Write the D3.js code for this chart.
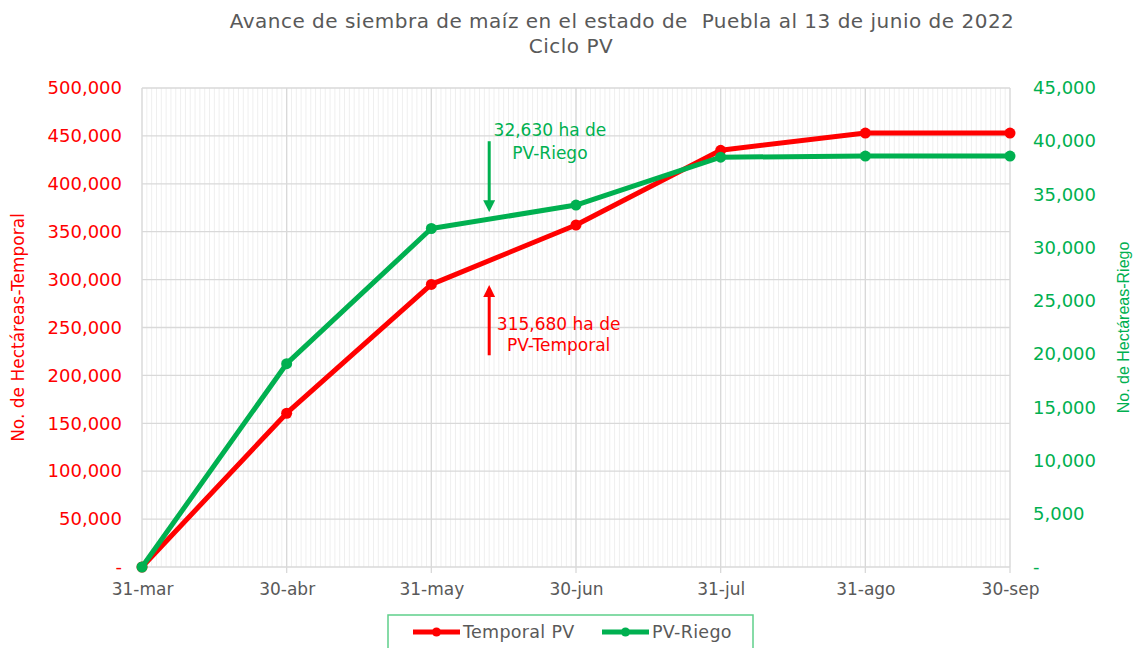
<!DOCTYPE html>
<html>
<head>
<meta charset="utf-8">
<script src="https://cdn.jsdelivr.net/npm/d3@7"></script>
<style>
  body { margin: 0; background: #fff; }
  svg text { font-family: "DejaVu Sans", "Open Sans", sans-serif; }
</style>
</head>
<body>
<div id="chart"></div>
<script>
const categories = ["31-mar", "30-abr", "31-may", "30-jun", "31-jul", "31-ago", "30-sep"];
const temporal = [0, 160500, 295000, 357000, 435000, 453000, 453000];
const riego = [0, 19100, 31800, 34000, 38500, 38600, 38600];
const leftTicks = [0, 50000, 100000, 150000, 200000, 250000, 300000, 350000, 400000, 450000, 500000];
const rightTicks = [0, 5000, 10000, 15000, 20000, 25000, 30000, 35000, 40000, 45000];

const red = "#ff0000";
const green = "#00b050";
const gray = "#595959";

const width = 1134;
const height = 648;
const marginLeft = 142;
const marginRight = 124;
const marginTop = 88;
const marginBottom = 81;

const svg = d3.select("#chart").append("svg")
  .attr("width", width)
  .attr("height", height);

// x is a linear scale on the category index so annotations can sit between dates
const x = d3.scaleLinear()
  .domain([0, categories.length - 1])
  .range([marginLeft, width - marginRight]);

const yLeft = d3.scaleLinear()
  .domain([0, 500000])
  .range([height - marginBottom, marginTop]);

const yRight = d3.scaleLinear()
  .domain([0, 45000])
  .range([height - marginBottom, marginTop]);

const fmt = d => d === 0 ? "-" : d3.format(",")(d);

// minor vertical grid (daily-ish subdivisions)
const minor = d3.range(0, (categories.length - 1) * 30 + 1).map(i => i / 30);
svg.append("g")
  .selectAll("line")
  .data(minor)
  .join("line")
  .attr("x1", d => x(d)).attr("x2", d => x(d))
  .attr("y1", yLeft(500000)).attr("y2", yLeft(0))
  .attr("stroke", "#efefef")
  .attr("stroke-width", 1);

// major horizontal grid
svg.append("g")
  .selectAll("line")
  .data(leftTicks)
  .join("line")
  .attr("x1", x(0)).attr("x2", x(categories.length - 1))
  .attr("y1", d => yLeft(d)).attr("y2", d => yLeft(d))
  .attr("stroke", "#d9d9d9")
  .attr("stroke-width", 1.3);

// major vertical grid
svg.append("g")
  .selectAll("line")
  .data(categories)
  .join("line")
  .attr("x1", (d, i) => x(i)).attr("x2", (d, i) => x(i))
  .attr("y1", yLeft(500000)).attr("y2", yLeft(0) + 6)
  .attr("stroke", "#d9d9d9")
  .attr("stroke-width", 1.3);

// axes
const xAxis = svg.append("g")
  .attr("transform", `translate(0,${height - marginBottom})`)
  .call(d3.axisBottom(x).tickValues(d3.range(categories.length)).tickFormat(i => categories[i]).tickSize(0).tickPadding(16));
xAxis.select(".domain").remove();
xAxis.selectAll("text").attr("fill", gray).style("font-size", "17px");

const leftAxis = svg.append("g")
  .attr("transform", `translate(${marginLeft - 20},0)`)
  .call(d3.axisLeft(yLeft).tickValues(leftTicks).tickFormat(fmt).tickSize(0).tickPadding(0));
leftAxis.select(".domain").remove();
leftAxis.selectAll("text").attr("fill", red).style("font-size", "18px");

const rightAxis = svg.append("g")
  .attr("transform", `translate(${width - marginRight + 23},0)`)
  .call(d3.axisRight(yRight).tickValues(rightTicks).tickFormat(fmt).tickSize(0).tickPadding(0));
rightAxis.select(".domain").remove();
rightAxis.selectAll("text").attr("fill", green).style("font-size", "18px");

// axis titles
svg.append("text")
  .attr("transform", `translate(24,${(marginTop + height - marginBottom) / 2}) rotate(-90)`)
  .attr("text-anchor", "middle")
  .attr("fill", red)
  .style("font-size", "17px")
  .text("No. de Hectáreas-Temporal");

svg.append("text")
  .attr("transform", `translate(1129,${(marginTop + height - marginBottom) / 2}) rotate(-90)`)
  .attr("text-anchor", "middle")
  .attr("fill", green)
  .style("font-family", "'Liberation Sans', Arial, sans-serif")
  .style("font-size", "16px")
  .text("No. de Hectáreas-Riego");

// title
svg.append("text")
  .attr("x", 622).attr("y", 28)
  .attr("text-anchor", "middle")
  .attr("fill", gray)
  .style("font-size", "20px")
  .style("letter-spacing", "0.5px")
  .style("white-space", "pre")
  .text("Avance de siembra de maíz en el estado de  Puebla al 13 de junio de 2022");
svg.append("text")
  .attr("x", 571).attr("y", 53)
  .attr("text-anchor", "middle")
  .attr("fill", gray)
  .style("font-size", "20px")
  .style("letter-spacing", "0.5px")
  .text("Ciclo PV");

// series
const series = [
  { name: "Temporal PV", values: temporal, y: yLeft, color: red },
  { name: "PV-Riego", values: riego, y: yRight, color: green }
];

series.forEach(s => {
  const line = d3.line()
    .x((_, i) => x(i))
    .y(d => s.y(d));
  svg.append("path")
    .datum(s.values)
    .attr("fill", "none")
    .attr("stroke", s.color)
    .attr("stroke-width", 5)
    .attr("stroke-linejoin", "round")
    .attr("d", line);
  svg.append("g")
    .selectAll("circle")
    .data(s.values)
    .join("circle")
    .attr("cx", (_, i) => x(i))
    .attr("cy", d => s.y(d))
    .attr("r", 5.5)
    .attr("fill", s.color);
});

// annotations
const defs = svg.append("defs");
[["headGreen", green], ["headRed", red]].forEach(([id, c]) => {
  defs.append("marker")
    .attr("id", id)
    .attr("viewBox", "0 0 10 10")
    .attr("refX", 5).attr("refY", 5)
    .attr("markerWidth", 4).attr("markerHeight", 4)
    .attr("orient", "auto")
    .append("path")
    .attr("d", "M0,0 L10,5 L0,10 Z")
    .attr("fill", c);
});

const arrowIdx = 2.4;
svg.append("line")
  .attr("x1", x(arrowIdx)).attr("x2", x(arrowIdx))
  .attr("y1", yRight(40000)).attr("y2", yRight(33900))
  .attr("stroke", green).attr("stroke-width", 3)
  .attr("marker-end", "url(#headGreen)");
svg.append("line")
  .attr("x1", x(arrowIdx)).attr("x2", x(arrowIdx))
  .attr("y1", yLeft(221000)).attr("y2", yLeft(288000))
  .attr("stroke", red).attr("stroke-width", 3)
  .attr("marker-end", "url(#headRed)");

const gNote = svg.append("text")
  .attr("text-anchor", "middle")
  .attr("fill", green)
  .style("font-size", "17px");
gNote.append("tspan").attr("x", x(2.82)).attr("y", 136).text("32,630 ha de");
gNote.append("tspan").attr("x", x(2.82)).attr("y", 159).text("PV-Riego");

const rNote = svg.append("text")
  .attr("text-anchor", "middle")
  .attr("fill", red)
  .style("font-size", "17px");
rNote.append("tspan").attr("x", x(2.88)).attr("y", 330).text("315,680 ha de");
rNote.append("tspan").attr("x", x(2.88)).attr("y", 351).text("PV-Temporal");

// legend
const legend = svg.append("g");
legend.append("rect")
  .attr("x", 388).attr("y", 615)
  .attr("width", 365).attr("height", 40)
  .attr("fill", "#fff")
  .attr("stroke", "#5fcf8a")
  .attr("stroke-width", 1.5);
const legendItems = [
  { name: "Temporal PV", color: red, x0: 413 },
  { name: "PV-Riego", color: green, x0: 602 }
];
legendItems.forEach(d => {
  legend.append("line")
    .attr("x1", d.x0).attr("x2", d.x0 + 47)
    .attr("y1", 632).attr("y2", 632)
    .attr("stroke", d.color).attr("stroke-width", 5);
  legend.append("circle")
    .attr("cx", d.x0 + 23.5).attr("cy", 632).attr("r", 4.5)
    .attr("fill", d.color);
  legend.append("text")
    .attr("x", d.x0 + 50).attr("y", 638)
    .attr("fill", gray)
    .style("font-size", "17.5px")
    .style("letter-spacing", "0.3px")
    .text(d.name);
});
</script>
</body>
</html>
